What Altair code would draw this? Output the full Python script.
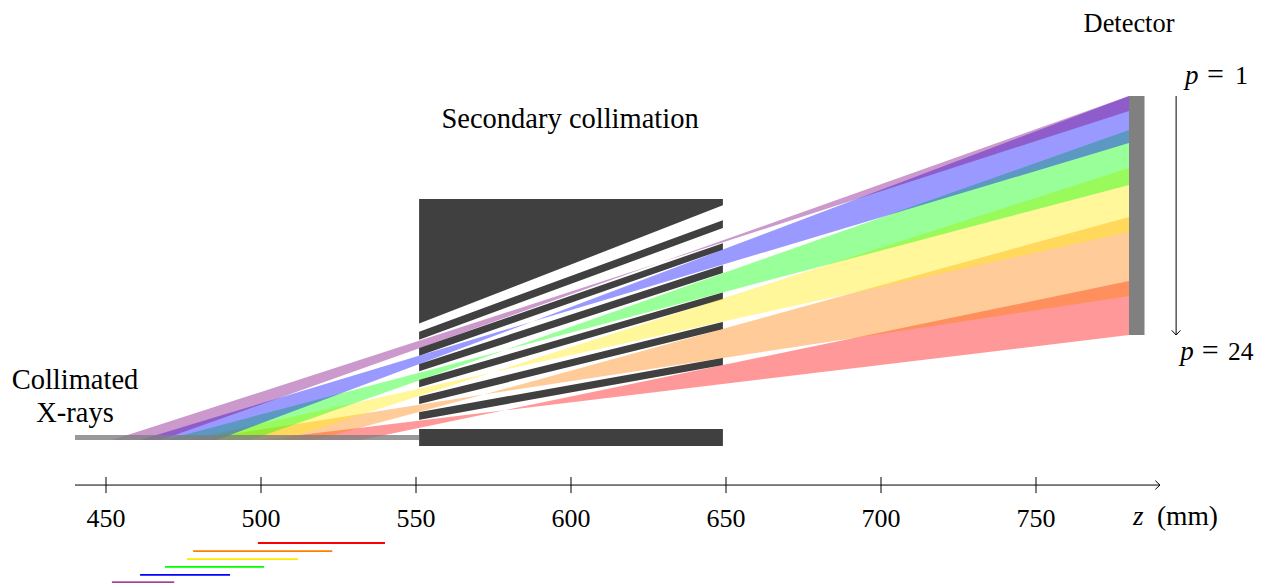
import altair as alt
import pandas as pd

# ---- values (z and transverse position, both in mm) ----
beam_names = ["red", "orange", "yellow", "green", "blue", "purple"]
beam_colors = ["#ff0000", "#ff8000", "#ffeb00", "#00ff00", "#0000ff", "#800080"]
beam_z = [
    [499.0, 532.2, 578.5, 780.0],
    [478.1, 517.3, 571.9, 780.0],
    [476.1, 506.9, 574.5, 780.0],
    [469.0, 496.4, 578.6, 780.0],
    [461.0, 485.7, 587.4, 780.0],
    [451.9, 467.7, 628.3, 780.0],
]
beam_top = [
    [-1.0, 3.0, 8.6, 50.3],
    [-1.0, 5.1, 13.7, 71.0],
    [-1.0, 5.8, 20.8, 86.8],
    [-1.0, 6.3, 28.0, 99.0],
    [-1.0, 6.5, 37.2, 110.0],
    [-1.0, 4.1, 56.1, 110.0],
]
beam_bottom = [
    [-1.0, -1.0, 8.6, 32.9],
    [-1.0, -1.0, 13.7, 45.5],
    [-1.0, -1.0, 20.8, 66.1],
    [-1.0, -1.0, 28.0, 81.3],
    [-1.0, -1.0, 37.2, 94.8],
    [-1.0, -1.0, 56.1, 105.2],
]
# bars under the axis
span_start = [499.0, 478.1, 476.1, 469.0, 461.0, 451.9]
span_end = [540.0, 523.0, 512.0, 501.0, 490.0, 472.0]
span_level = [-34.2, -36.8, -39.4, -41.9, -44.5, -46.8]
span_width = [1.8, 1.8, 1.8, 1.8, 1.8, 1.3]

# collimator block
coll_z = [551.0, 649.0]
coll_top = 76.8
coll_bottom = -2.9
# channels through it: [left top, right top], [left bottom, right bottom]
chan_z = [550.8, 649.2]
chan_top = [[36.5, 74.8], [31.3, 67.5], [26.1, 60.5], [21.1, 53.0], [16.0, 44.5], [10.6, 34.8], [5.5, 23.2]]
chan_bottom = [[33.9, 70.0], [28.6, 62.6], [23.5, 55.5], [18.4, 46.7], [13.0, 37.2], [8.0, 25.6], [2.6, 2.6]]

# source band and detector
source_z = [440.0, 551.0]
source_t = [0.65, -0.97]
detector_z = [780.0, 785.0]
detector_t = [110.0, 32.9]

# z axis
axis_z = [440.0, 790.0]
axis_t = -15.5
tick_values = [450, 500, 550, 600, 650, 700, 750]
tick_half = 2.6
tick_label_t = -29.0

# p arrow
arrow_z = 795.2
arrow_t = [110.0, 32.9]

text_plain = [
    ("Secondary collimation", 599.7, 99.7, "center", 28.5),
    ("Detector", 780.0, 130.5, "center", 26.4),
    ("Collimated", 440.0, 15.5, "center", 28.5),
    ("X-rays", 440.0, 4.8, "center", 28.5),
    ("=", 805.2, 113.9, "left", 30),
    ("1", 814.2, 113.9, "left", 26),
    ("=", 803.5, 24.8, "left", 30),
    ("24", 811.9, 24.8, "left", 25.5),
    ("(mm)", 789.0, -28.5, "left", 27.5),
]
text_italic = [
    ("p", 798.1, 113.9, "left", 27),
    ("p", 796.5, 24.8, "left", 27),
    ("z", 781.3, -28.5, "left", 27),
]
FONT = "Liberation Serif"
TICK_SIZE = 26
LINE = 1.0

x_scale = alt.Scale(domain=[418.387, 820.645], nice=False, zero=False)
y_scale = alt.Scale(domain=[-47.097, 138.387], nice=False, zero=False)
X = alt.X("z:Q", scale=x_scale, axis=None, sort=None)
Y = alt.Y("t:Q", scale=y_scale, axis=None)

layers = []

# collimator
layers.append(
    alt.Chart(pd.DataFrame({"z": [coll_z[0]], "z2": [coll_z[1]], "t": [coll_top], "t2": [coll_bottom]}))
    .mark_rect(color="#404040")
    .encode(x=X, x2="z2:Q", y=Y, y2="t2:Q")
)
for top, bottom in zip(chan_top, chan_bottom):
    layers.append(
        alt.Chart(pd.DataFrame({"z": chan_z, "t": top, "t2": bottom}))
        .mark_area(color="#ffffff", orient="vertical")
        .encode(x=X, y=Y, y2="t2:Q")
    )

# beams
for zs, top, bottom, col in zip(beam_z, beam_top, beam_bottom, beam_colors):
    layers.append(
        alt.Chart(pd.DataFrame({"z": zs, "t": top, "t2": bottom}))
        .mark_area(color=col, opacity=0.4, orient="vertical")
        .encode(x=X, y=Y, y2="t2:Q")
    )

# source band
layers.append(
    alt.Chart(pd.DataFrame({"z": [source_z[0]], "z2": [source_z[1]], "t": [source_t[0]], "t2": [source_t[1]]}))
    .mark_rect(color="#808080", opacity=0.8)
    .encode(x=X, x2="z2:Q", y=Y, y2="t2:Q")
)
# detector
layers.append(
    alt.Chart(pd.DataFrame({"z": [detector_z[0]], "z2": [detector_z[1]], "t": [detector_t[0]], "t2": [detector_t[1]]}))
    .mark_rect(color="#808080")
    .encode(x=X, x2="z2:Q", y=Y, y2="t2:Q")
)

# axis line and ticks
layers.append(
    alt.Chart(pd.DataFrame({"z": [axis_z[0]], "z2": [axis_z[1]], "t": [axis_t]}))
    .mark_rule(color="#000000", strokeWidth=LINE)
    .encode(x=X, x2="z2:Q", y=Y)
)
layers.append(
    alt.Chart(pd.DataFrame({"z": tick_values, "t": [axis_t + tick_half] * 7, "t2": [axis_t - tick_half] * 7}))
    .mark_rule(color="#000000", strokeWidth=LINE)
    .encode(x=X, y=Y, y2="t2:Q")
)
# arrow heads
layers.append(
    alt.Chart(pd.DataFrame({"z": [788.5, axis_z[1], 788.5], "t": [axis_t + 1.4, axis_t, axis_t - 1.4]}))
    .mark_line(color="#000000", strokeWidth=LINE)
    .encode(x=X, y=Y, order=alt.Order("t:Q"))
)
layers.append(
    alt.Chart(pd.DataFrame({"z": [arrow_z], "t": [arrow_t[0]], "t2": [arrow_t[1]]}))
    .mark_rule(color="#000000", strokeWidth=LINE)
    .encode(x=X, y=Y, y2="t2:Q")
)
layers.append(
    alt.Chart(pd.DataFrame({"z": [arrow_z - 1.4, arrow_z, arrow_z + 1.4], "t": [arrow_t[1] + 1.5, arrow_t[1], arrow_t[1] + 1.5]}))
    .mark_line(color="#000000", strokeWidth=LINE)
    .encode(x=alt.X("z:Q", scale=x_scale, axis=None), y=Y, order=alt.Order("z:Q"))
)

# colored spans
for s, e, lv, w, col in zip(span_start, span_end, span_level, span_width, beam_colors):
    layers.append(
        alt.Chart(pd.DataFrame({"z": [s], "z2": [e], "t": [lv]}))
        .mark_rule(color=col, strokeWidth=w)
        .encode(x=X, x2="z2:Q", y=Y)
    )

# tick labels
layers.append(
    alt.Chart(pd.DataFrame({"z": tick_values, "t": [tick_label_t] * 7, "s": [str(v) for v in tick_values]}))
    .mark_text(font=FONT, fontSize=TICK_SIZE, color="#000000", align="center", baseline="alphabetic")
    .encode(x=X, y=Y, text="s:N")
)

# text
for rows, style in ((text_plain, "normal"), (text_italic, "italic")):
    for s, z, t, al, size in rows:
        layers.append(
            alt.Chart(pd.DataFrame({"z": [z], "t": [t], "s": [s]}))
            .mark_text(font=FONT, fontSize=size, fontStyle=style, color="#000000", align=al, baseline="alphabetic")
            .encode(x=X, y=Y, text="s:N")
        )

chart = (
    alt.layer(*layers)
    .properties(width=1247, height=575, padding=0, autosize=alt.AutoSizeParams(type="none"))
    .configure_view(stroke=None)
)
chart.save("out.html", embed_options={"renderer": "svg", "actions": False})
